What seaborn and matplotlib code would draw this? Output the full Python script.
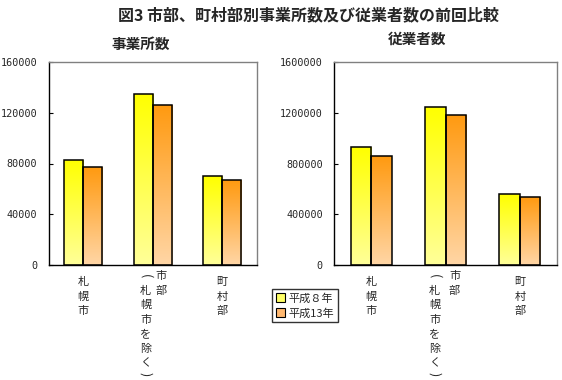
import numpy as np
import pandas as pd
import matplotlib
matplotlib.use('Agg')
import matplotlib.pyplot as plt
import seaborn as sns
from matplotlib.colors import LinearSegmentedColormap
from matplotlib.patches import Patch

categories = ['札幌市', '市部（札幌市を除く）', '町村部']
years = ['平成８年', '平成13年']
estab_h8 = [82800, 134800, 69900]
estab_h13 = [77000, 125900, 66800]
emp_h8 = [927700, 1243000, 557000]
emp_h13 = [856700, 1180000, 533600]

# vertical tick label columns, left column first
label_cols = [['札幌市'], ['(札幌市を除く)', '市部'], ['町村部']]

sns.set_style('white')
plt.rcParams['font.family'] = ['Noto Sans CJK JP', 'DejaVu Sans']

grad_cols = {'平成８年': ('#FFFF00', '#FFFF99'), '平成13年': ('#FF9A10', '#FFD6A6')}
PX = 0.72  # points per pixel at 100 dpi
STEP = 14.6


def make_df(v8, v13):
    rows = []
    for c, a, b in zip(categories, v8, v13):
        rows.append({'区分': c, '年': years[0], '値': a})
        rows.append({'区分': c, '年': years[1], '値': b})
    return pd.DataFrame(rows)


def gradient_bars(ax):
    grad = np.linspace(0, 1, 256).reshape(-1, 1)
    for yr, cont in zip(years, ax.containers):
        top, bot = grad_cols[yr]
        cmap = LinearSegmentedColormap.from_list(yr, [bot, top])
        for bar in cont:
            x, y = bar.get_xy()
            w, h = bar.get_width(), bar.get_height()
            im = ax.imshow(grad, extent=[x, x + w, y, y + h], origin='lower',
                           aspect='auto', cmap=cmap, zorder=1.5)
            im.set_clip_path(bar)
            bar.set_facecolor('none')
            bar.set_zorder(2)


def vertical_label(ax, i, text, dx, first):
    for k, ch in enumerate(text):
        y = first + STEP * k
        rot, fs = 0, 8
        if ch == '(':
            rot, fs = -90, 9
        elif ch == ')':
            rot, fs, y = -90, 9, y - 4
        ax.annotate(ch, xy=(i, 0), xycoords=('data', 'axes fraction'),
                    xytext=(dx * PX, -y * PX), textcoords='offset points',
                    ha='center', va='center', fontsize=fs, rotation=rot)


def draw_panel(ax, v8, v13, ymax, step, offsets):
    df = make_df(v8, v13)
    sns.barplot(data=df, x='区分', y='値', hue='年', hue_order=years, ax=ax,
                width=0.55, palette=['#FFFF66', '#FFB870'], edgecolor='black',
                linewidth=1.1, legend=False, errorbar=None)
    gradient_bars(ax)
    ax.set_xlim(-0.5, 2.5)
    ax.set_ylim(0, ymax)
    ticks = np.arange(0, ymax + 1, step)
    ax.set_yticks(ticks)
    ax.set_yticklabels([str(int(t)) for t in ticks], family='DejaVu Sans Mono', fontsize=7.3)
    ax.set_xticks(range(len(categories)))
    ax.set_xticklabels([])
    ax.set_xticks([0.5, 1.5], minor=True)
    ax.tick_params(axis='x', which='major', length=0)
    ax.tick_params(axis='x', which='minor', direction='in', length=3, width=0.8, color='black')
    ax.tick_params(axis='y', direction='in', length=3, width=0.8, color='black', pad=8, left=True)
    ax.set_xlabel('')
    ax.set_ylabel('')
    for s in ['top', 'right']:
        ax.spines[s].set_color('#808080')
        ax.spines[s].set_linewidth(1.0)
    for s in ['left', 'bottom']:
        ax.spines[s].set_color('black')
        ax.spines[s].set_linewidth(1.0)
    for i, cols in enumerate(label_cols):
        if len(cols) == 1:
            vertical_label(ax, i, cols[0], 0, 17)
        else:
            for col, dx in zip(cols, offsets):
                vertical_label(ax, i, col, dx, 11)


fig = plt.figure(figsize=(5.62, 3.80), dpi=100)
ax1 = fig.add_axes([48.5 / 562, 1 - 265 / 380, 208.5 / 562, 203 / 380])
ax2 = fig.add_axes([334 / 562, 1 - 265 / 380, 223 / 562, 203 / 380])

draw_panel(ax1, estab_h8, estab_h13, 160000, 40000, (-7, 8))
draw_panel(ax2, emp_h8, emp_h13, 1600000, 400000, (-11, 9))

fig.text(308 / 562, 1 - 15 / 380, '図3 市部、町村部別事業所数及び従業者数の前回比較',
         ha='center', va='center', fontsize=11.5, fontweight='bold')
fig.text(141 / 562, 1 - 44 / 380, '事業所数', ha='center', va='center',
         fontsize=10.5, fontweight='bold')
fig.text(417 / 562, 1 - 39 / 380, '従業者数', ha='center', va='center',
         fontsize=10.5, fontweight='bold')

handles = [Patch(facecolor='#FFFF66', edgecolor='black', linewidth=0.8),
           Patch(facecolor='#FFB870', edgecolor='black', linewidth=0.8)]
leg = fig.legend(handles, years, loc='upper left', bbox_to_anchor=(272 / 562, 1 - 289 / 380),
                 fontsize=8, frameon=True, fancybox=False, handlelength=0.8, handleheight=0.8,
                 handletextpad=0.3, borderpad=0.35, labelspacing=0.4, borderaxespad=0)
leg.get_frame().set_edgecolor('black')
leg.get_frame().set_linewidth(1.0)

fig.savefig('out.png', dpi=100)
